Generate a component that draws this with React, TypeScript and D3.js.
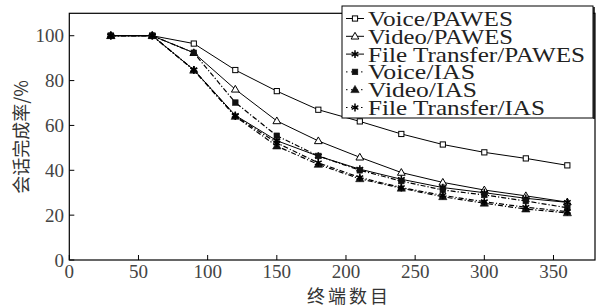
import React from "react";
import * as d3 from "d3";

const terminals = [30, 60, 90, 120, 150, 180, 210, 240, 270, 300, 330, 360];
const voicePAWES = [100, 100, 96.5, 84.7, 75.3, 67, 61.8, 56.2, 51.5, 48, 45.3, 42.2];
const videoPAWES = [100, 100, 92.4, 76.1, 62, 53.1, 45.8, 39, 34.6, 31.2, 28.6, 25.8];
const filePAWES = [100, 100, 84.8, 64.5, 53.2, 46.3, 40.5, 36, 32.3, 30, 27.5, 25.7];
const voiceIAS = [100, 100, 92.4, 70.2, 55.4, 46.4, 40, 35.2, 31.2, 29, 26.3, 23.3];
const videoIAS = [100, 100, 84.6, 64, 50.8, 42.6, 36.2, 32, 28.2, 25.3, 22.7, 21];
const fileIAS = [100, 100, 84.8, 64.2, 52.2, 43.3, 36.8, 32.3, 28.8, 26, 23.5, 21.6];

const xTicks = [0, 50, 100, 150, 200, 250, 300, 350];
const yTicks = [0, 20, 40, 60, 80, 100];
const seriesNames = [
  "Voice/PAWES",
  "Video/PAWES",
  "File Transfer/PAWES",
  "Voice/IAS",
  "Video/IAS",
  "File Transfer/IAS",
];
const xTitle = "终端数目";
const yTitle = "会话完成率/%";

type Kind = "sqOpen" | "triOpen" | "star" | "sqFill" | "triFill";
const series: { name: string; values: number[]; dashed: boolean; kind: Kind; textW: number }[] = [
  { name: seriesNames[0], values: voicePAWES, dashed: false, kind: "sqOpen", textW: 145 },
  { name: seriesNames[1], values: videoPAWES, dashed: false, kind: "triOpen", textW: 145 },
  { name: seriesNames[2], values: filePAWES, dashed: false, kind: "star", textW: 217 },
  { name: seriesNames[3], values: voiceIAS, dashed: true, kind: "sqFill", textW: 107 },
  { name: seriesNames[4], values: videoIAS, dashed: true, kind: "triFill", textW: 109 },
  { name: seriesNames[5], values: fileIAS, dashed: true, kind: "star", textW: 177 },
];

const W = 601;
const H = 308;
const x = d3.scaleLinear().domain([0, 380]).range([69.3, 595]);
const y = d3.scaleLinear().domain([0, 110]).range([260, 13.3]);

const star = d3.symbol().type(d3.symbolAsterisk).size(42)();
const triOpen = d3.symbol().type(d3.symbolTriangle).size(26)();
const triFill = d3.symbol().type(d3.symbolTriangle).size(30)();

function Marker({ kind, cx, cy }: { kind: Kind; cx: number; cy: number }) {
  const t = `translate(${cx},${cy})`;
  if (kind === "sqOpen")
    return <rect x={cx - 2.6} y={cy - 2.6} width={5.2} height={5.2} fill="#fff" stroke="#000" strokeWidth={1} />;
  if (kind === "sqFill")
    return <rect x={cx - 2.8} y={cy - 2.8} width={5.6} height={5.6} fill="#111" stroke="#111" strokeWidth={0.6} />;
  if (kind === "triOpen")
    return <path d={triOpen!} transform={`translate(${cx},${cy + 0.5})`} fill="#fff" stroke="#000" strokeWidth={1} />;
  if (kind === "triFill")
    return <path d={triFill!} transform={`translate(${cx},${cy + 0.5})`} fill="#111" stroke="#111" strokeWidth={0.6} />;
  return <path d={star!} transform={t} fill="none" stroke="#000" strokeWidth={1.5} />;
}

export default function App() {
  const line = d3
    .line<number>()
    .x((_, i) => x(terminals[i]))
    .y((v) => y(v));
  const serif = "'Liberation Serif', 'DejaVu Serif', serif";
  const cjk = "'Noto Sans CJK SC', sans-serif";
  const legendX = 342;
  const legendY0 = 18.5;
  const legendStep = 17.8;
  return (
    <svg width={W} height={H} style={{ position: "absolute", left: 0, top: 0, background: "#fff" }}>
      <rect x={0} y={0} width={W} height={H} fill="#fff" />
      {/* frame */}
      <rect x={x(0)} y={y(110)} width={x(380) - x(0)} height={y(0) - y(110)} fill="none" stroke="#000" strokeWidth={1.2} />
      {/* ticks */}
      {xTicks.map((t) => (
        <g key={"x" + t}>
          <line x1={x(t)} x2={x(t)} y1={y(0)} y2={y(0) - 5} stroke="#000" strokeWidth={1} />
          <text x={x(t)} y={278} textAnchor="middle" fontFamily={serif} fontSize={19} fill="#444">
            {t}
          </text>
        </g>
      ))}
      {yTicks.map((t) => (
        <g key={"y" + t}>
          <line x1={x(0)} x2={x(0) + 5} y1={y(t)} y2={y(t)} stroke="#000" strokeWidth={1} />
          <text x={64} y={y(t) + 6.5} textAnchor="end" fontFamily={serif} fontSize={19} fill="#444">
            {t}
          </text>
        </g>
      ))}
      {/* axis titles */}
      <text x={349} y={303} textAnchor="middle" fontFamily={cjk} fontSize={18} letterSpacing={3} fill="#333">
        {xTitle}
      </text>
      <text
        transform="translate(28,137) rotate(-90)"
        textAnchor="middle"
        fontFamily={cjk}
        fontSize={18}
        fill="#333"
      >
        {yTitle}
      </text>
      {/* lines */}
      {series.map((s) => (
        <path
          key={s.name}
          d={line(s.values)!}
          fill="none"
          stroke="#000"
          strokeWidth={s.dashed ? 1.2 : 1}
          strokeDasharray={s.dashed ? "5,2,1.2,2" : undefined}
        />
      ))}
      {series.map((s) =>
        s.values.map((v, i) => <Marker key={s.name + i} kind={s.kind} cx={x(terminals[i])} cy={y(v)} />)
      )}
      {/* legend */}
      <rect x={legendX} y={6} width={251} height={112} fill="#fff" stroke="#000" strokeWidth={1} />
      <line x1={594} x2={594} y1={7} y2={119} stroke="#000" strokeWidth={1.5} />
      {series.map((s, i) => {
        const cy = legendY0 + i * legendStep;
        return (
          <g key={"lg" + s.name}>
            <line
              x1={346}
              x2={364}
              y1={cy}
              y2={cy}
              stroke="#000"
              strokeWidth={1}
              strokeDasharray={s.dashed ? "1.5,3.5" : undefined}
            />
            <Marker kind={s.kind} cx={355} cy={cy} />
            <text
              x={368}
              y={cy + 7.5}
              fontFamily={serif}
              fontSize={22}
              fill="#222"
              textLength={s.textW}
              lengthAdjust="spacingAndGlyphs"
            >
              {s.name}
            </text>
          </g>
        );
      })}
    </svg>
  );
}
